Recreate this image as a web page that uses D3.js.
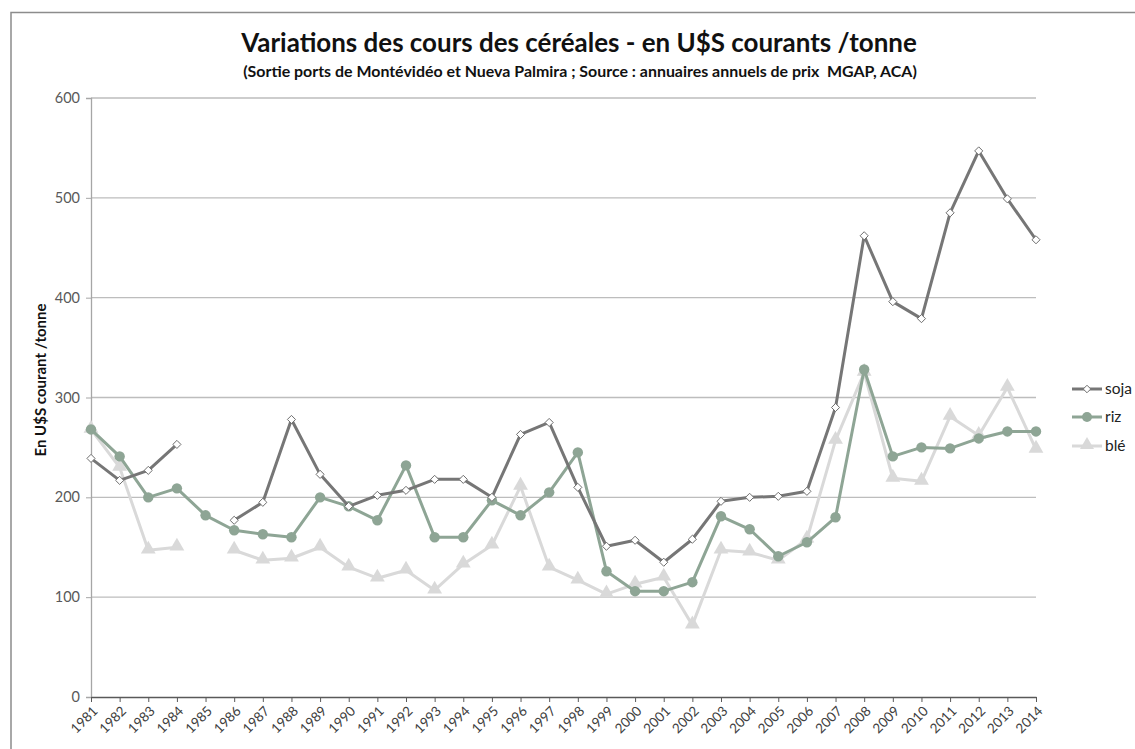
<!DOCTYPE html>
<html>
<head>
<meta charset="utf-8">
<script src="https://cdn.jsdelivr.net/npm/d3@7"></script>
<style>
  body { margin: 0; background: #fff; }
  svg { display: block; font-family: Lato, "Open Sans", sans-serif; }
</style>
</head>
<body>
<div id="graphicContainer"></div>
<script>

var years = ["1981","1982","1983","1984","1985","1986","1987","1988","1989","1990","1991","1992","1993","1994","1995","1996","1997","1998","1999","2000","2001","2002","2003","2004","2005","2006","2007","2008","2009","2010","2011","2012","2013","2014"]

var soja = [239,217,227,253,null,177,195,278,223,191,202,207,218,218,200,263,275,210,151,157,135,158,196,200,201,206,290,462,396,379,485,547,499,458]
var riz = [268,241,200,209,182,167,163,160,200,191,177,232,160,160,197,182,205,245,126,106,106,115,181,168,141,155,180,328,241,250,249,259,266,266]
var ble = [268,230,147,150,null,147,137,139,150,130,119,127,107,133,152,211,130,117,103,113,120,72,147,145,137,158,257,325,219,216,281,262,310,248]

var yTicks = [0,100,200,300,400,500,600]

var seriesNames = ["soja","riz","blé"]

function init() {

	var width = 1135, height = 749
	var margin = {top: 98, right: 99, bottom: 52, left: 91}

	d3.select("#graphicContainer svg").remove()

	var svg = d3.select("#graphicContainer").append("svg")
		.attr("width", width)
		.attr("height", height)

	// chart frame (runs off the right and bottom edges)
	svg.append("rect")
		.attr("x", 11).attr("y", 12.5)
		.attr("width", width + 20).attr("height", height + 20)
		.attr("fill", "none")
		.attr("stroke", "#8c8c8c")
		.attr("stroke-width", 1.5)

	var x = d3.scalePoint()
		.domain(years)
		.range([margin.left, width - margin.right])

	var y = d3.scaleLinear()
		.domain([0, 600])
		.range([height - margin.bottom, margin.top])

	// gridlines
	svg.append("g")
		.selectAll("line")
		.data(yTicks.filter(d => d > 0))
		.enter()
		.append("line")
		.attr("x1", margin.left)
		.attr("x2", width - margin.right)
		.attr("y1", d => y(d))
		.attr("y2", d => y(d))
		.attr("stroke", "#bdbdbd")
		.attr("stroke-width", 1.3)

	// y axis
	var yAxis = svg.append("g")
		.attr("transform", "translate(" + margin.left + ",0)")
		.call(d3.axisLeft(y).tickValues(yTicks).tickSize(5).tickPadding(6))
	yAxis.select(".domain").attr("stroke", "#a6a6a6").attr("stroke-width", 1.3)
	yAxis.selectAll(".tick line").attr("stroke", "#a6a6a6")
	yAxis.selectAll("text")
		.attr("fill", "#595959")
		.attr("font-size", 14.5)
		.style("font-family", "Lato, sans-serif")

	// x axis
	var xAxis = svg.append("g")
		.attr("transform", "translate(0," + y(0) + ")")
		.call(d3.axisBottom(x).tickSize(5).tickSizeOuter(0))
	xAxis.select(".domain").attr("stroke", "#595959").attr("stroke-width", 1.3)
	xAxis.selectAll(".tick line").attr("stroke", "#595959")
	xAxis.selectAll("text")
		.attr("fill", "#404040")
		.attr("font-size", 13.5)
		.style("font-family", "Lato, sans-serif")
		.style("text-anchor", "end")
		.attr("dy", 0)
		.attr("y", 0)
		.attr("transform", "translate(7,15)rotate(-45)")

	// y axis title
	svg.append("text")
		.attr("transform", "translate(46,380)rotate(-90)")
		.attr("text-anchor", "middle")
		.attr("font-size", 15)
		.attr("font-weight", "bold")
		.attr("fill", "#111")
		.text("En U$S courant /tonne")

	var colors = {"soja": "#767676", "riz": "#8ea595", "blé": "#d9d9d9"}
	var allData = {"soja": soja, "riz": riz, "blé": ble}

	var line = d3.line()
		.defined(d => d.v != null)
		.x(d => x(d.year))
		.y(d => y(d.v))

	var drawOrder = ["blé", "riz", "soja"]

	drawOrder.forEach(function (name) {
		var pts = years.map((yr, i) => ({year: yr, v: allData[name][i]}))

		svg.append("path")
			.datum(pts)
			.attr("fill", "none")
			.attr("stroke", colors[name])
			.attr("stroke-width", 3)
			.attr("stroke-linejoin", "round")
			.attr("d", line)

		var valid = pts.filter(d => d.v != null)

		if (name == "soja") {
			svg.append("g").selectAll("path")
				.data(valid).enter().append("path")
				.attr("d", d3.symbol().type(d3.symbolDiamond2).size(42))
				.attr("transform", d => "translate(" + x(d.year) + "," + y(d.v) + ")")
				.attr("fill", "#fff")
				.attr("stroke", "#6e6e6e")
				.attr("stroke-width", 1)
		} else if (name == "riz") {
			svg.append("g").selectAll("circle")
				.data(valid).enter().append("circle")
				.attr("cx", d => x(d.year))
				.attr("cy", d => y(d.v))
				.attr("r", 5.2)
				.attr("fill", colors[name])
		} else {
			svg.append("g").selectAll("path")
				.data(valid).enter().append("path")
				.attr("d", d3.symbol().type(d3.symbolTriangle).size(95))
				.attr("transform", d => "translate(" + x(d.year) + "," + (y(d.v) - 1) + ")")
				.attr("fill", colors[name])
		}
	})

	// legend
	var legendY = [389, 417, 446]
	seriesNames.forEach(function (name, i) {
		var g = svg.append("g").attr("transform", "translate(1072," + legendY[i] + ")")
		g.append("line")
			.attr("x1", 0).attr("x2", 30)
			.attr("stroke", colors[name])
			.attr("stroke-width", 3)
		if (name == "soja") {
			g.append("path")
				.attr("d", d3.symbol().type(d3.symbolDiamond2).size(36))
				.attr("transform", "translate(15,0)")
				.attr("fill", "#fff").attr("stroke", "#6e6e6e")
		} else if (name == "riz") {
			g.append("circle").attr("cx", 15).attr("r", 5).attr("fill", colors[name])
		} else {
			g.append("path")
				.attr("d", d3.symbol().type(d3.symbolTriangle).size(85))
				.attr("transform", "translate(15,-1)")
				.attr("fill", colors[name])
		}
		g.append("text")
			.attr("x", 33)
			.attr("dy", "0.35em")
			.attr("font-size", 15.5)
			.attr("fill", "#222")
			.text(name)
	})

	// titles, sized to fit the reference widths
	function fitText(sel, target) {
		var w = sel.node().getComputedTextLength()
		var fs = parseFloat(sel.attr("font-size"))
		sel.attr("font-size", fs * target / w)
	}

	var title = svg.append("text")
		.attr("x", 579).attr("y", 52)
		.attr("text-anchor", "middle")
		.attr("font-size", 24)
		.attr("font-weight", "bold")
		.attr("fill", "#111")
		.text("Variations des cours des céréales - en U$S courants /tonne")
	fitText(title, 676)

	var subTitle = svg.append("text")
		.attr("x", 580).attr("y", 77)
		.attr("text-anchor", "middle")
		.attr("font-size", 13)
		.attr("font-weight", "bold")
		.attr("fill", "#111")
		.attr("xml:space", "preserve")
		.style("white-space", "pre")
		.text("(Sortie ports de Montévidéo et Nueva Palmira ; Source : annuaires annuels de prix  MGAP, ACA)")
	fitText(subTitle, 674)
}

init()

</script>
</body>
</html>
